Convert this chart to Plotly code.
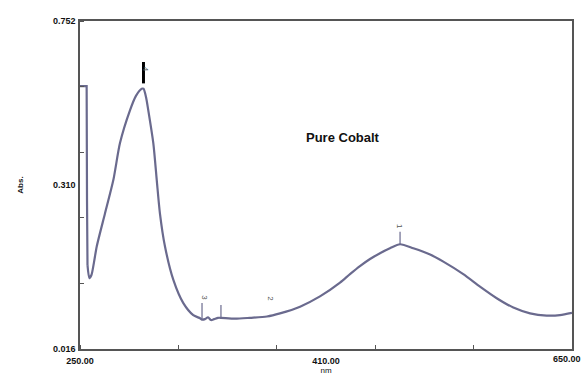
import plotly.graph_objects as go

# Spectrum (wavelength nm, absorbance)
wavelength = [250.0, 255.4, 255.7, 256.1, 257.6, 259.3, 261.4, 263.6, 270.3, 277.1,
              282.5, 290.7, 295.5, 300.2, 301.6, 303.7, 305.5, 309.6, 312.4, 315.0,
              319.1, 325.9, 334.0, 342.1, 347.6, 349.2, 351.6, 354.1, 356.5, 359.0,
              362.2, 364.6, 376.0, 388.2, 402.0, 412.6, 428.9, 445.1, 461.4, 469.5,
              477.6, 485.8, 493.9, 502.0, 510.2, 521.0, 534.6, 545.4, 561.6, 575.2,
              588.8, 602.3, 615.9, 629.4, 640.2, 650.0]
absorbance = [0.606, 0.606, 0.350, 0.204, 0.175, 0.182, 0.211, 0.246, 0.320, 0.395,
              0.478, 0.552, 0.584, 0.600, 0.600, 0.581, 0.552, 0.478, 0.395, 0.320,
              0.246, 0.171, 0.119, 0.092, 0.085, 0.082, 0.083, 0.087, 0.081, 0.083,
              0.086, 0.086, 0.084, 0.086, 0.089, 0.096, 0.111, 0.134, 0.165, 0.184,
              0.202, 0.218, 0.231, 0.242, 0.251, 0.242, 0.228, 0.212, 0.184, 0.156,
              0.130, 0.109, 0.096, 0.091, 0.092, 0.097]

# Peak pick markers
peak_nm = [510.2, 349.2, 364.6]
peak_abs = [0.251, 0.082, 0.086]
peak_top = [0.279, 0.119, 0.115]
main_peak_nm = 301.6
main_peak_abs = 0.600
main_peak_top = 0.660

label_nm = [510.2, 405.3, 351.5, 303.5]
label_abs = [0.292, 0.130, 0.130, 0.643]
label_text = ["1", "2", "3", "4"]

# Axis
x_range = [250, 650]
y_range = [0.016, 0.752]
x_tickvals = [250, 450, 650]
x_ticktext = ["250.00", "410.00", "650.00"]
y_tickvals = [0.016, 0.384, 0.752]
y_ticktext = ["0.016", "0.310", "0.752"]

line_color = "#6a6a8e"

fig = go.Figure()
fig.add_trace(go.Scatter(x=wavelength[:4], y=absorbance[:4], mode="lines",
                         line=dict(color=line_color, width=2.2), hoverinfo="skip"))
fig.add_trace(go.Scatter(x=wavelength[3:], y=absorbance[3:], mode="lines",
                         line=dict(color=line_color, width=2.2, shape="spline", smoothing=0.7),
                         hoverinfo="skip"))

mx, my = [], []
for n, a, t in zip(peak_nm, peak_abs, peak_top):
    mx += [n, n, None]
    my += [a, t, None]
fig.add_trace(go.Scatter(x=mx, y=my, mode="lines",
                         line=dict(color=line_color, width=1.2), hoverinfo="skip"))
fig.add_trace(go.Scatter(x=[main_peak_nm, main_peak_nm], y=[main_peak_abs + 0.012, main_peak_top],
                         mode="lines", line=dict(color="black", width=3), hoverinfo="skip"))

for n, a, t in zip(label_nm, label_abs, label_text):
    fig.add_annotation(x=n, y=a, text=t, showarrow=False, textangle=90,
                       font=dict(family="Liberation Sans, Arial", size=8, color="#555"))

fig.add_annotation(x=0.535, y=0.674, xref="paper", yref="paper", text="<b>Pure Cobalt</b>",
                   showarrow=False, font=dict(family="Liberation Sans, Arial", size=13, color="#111"))

axis_font = dict(family="Liberation Sans, Arial", size=9, color="#111", weight="bold")

# last x tick label placed so that it stays inside the page
fig.add_annotation(x=x_tickvals[-1], y=0, xref="x", yref="paper", yanchor="top",
                   xanchor="right", xshift=11, yshift=-3, text=x_ticktext[-1],
                   showarrow=False, font=axis_font)

fig.update_layout(
    width=584, height=376,
    margin=dict(l=80, r=12, t=21, b=27),
    paper_bgcolor="white", plot_bgcolor="white",
    showlegend=False,
    xaxis=dict(range=x_range, tickvals=x_tickvals[:-1], ticktext=x_ticktext[:-1],
               ticks="", showgrid=False, zeroline=False, automargin=False,
               ticklabeloverflow="allow",
               showline=True, linecolor="#555", linewidth=1.5, mirror=True,
               tickfont=axis_font, ticklabelstandoff=2,
               minor=dict(ticks="inside", tick0=250, dtick=80, ticklen=4,
                          tickcolor="#555", showgrid=False),
               title=dict(text="nm", font=dict(family="Liberation Sans, Arial", size=8, color="#111"),
                          standoff=3)),
    yaxis=dict(range=y_range, tickvals=y_tickvals, ticktext=y_ticktext,
               ticks="", showgrid=False, zeroline=False, automargin=False,
               ticklabeloverflow="allow",
               showline=True, linecolor="#555", linewidth=1.5, mirror=True,
               tickfont=axis_font, ticklabelstandoff=1,
               minor=dict(ticks="inside", tick0=0.016, dtick=0.1472, ticklen=4,
                          tickcolor="#555", showgrid=False),
               title=dict(text="<b>Abs.</b>", font=dict(family="Liberation Sans, Arial", size=8, color="#111"),
                          standoff=28)),
)

fig.write_html("out.html")
